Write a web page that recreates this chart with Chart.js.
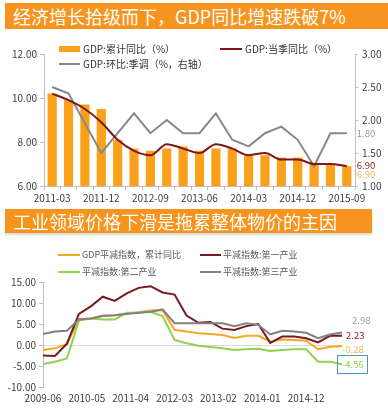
<!DOCTYPE html>
<html><head><meta charset="utf-8">
<script src="https://cdn.jsdelivr.net/npm/chart.js@4.4.0/dist/chart.umd.min.js"></script>
<style>
html,body{margin:0;padding:0;background:#fff;width:388px;height:410px;overflow:hidden;font-family:"Noto Sans CJK SC","Noto Sans",sans-serif;}
.banner{position:absolute;background:#F7941D;color:#fff;font-size:18px;padding-left:8px;box-sizing:border-box;white-space:nowrap;z-index:2;}
#b1{left:5px;top:3px;width:383px;height:26px;line-height:26px;}
#b2{left:5px;top:209px;width:367px;height:24px;line-height:24px;box-shadow:0 2px 2px rgba(0,0,0,0.15);}
.leg{position:absolute;white-space:nowrap;z-index:2;}
.t1{font-size:10px;line-height:12px;color:#333;}
.t2{font-size:9px;line-height:11px;color:#595959;}
.sw{position:absolute;z-index:2;}
canvas{position:absolute;left:0;}
#c1{top:35px;}
#c2{top:240px;}
</style></head>
<body>
<canvas id="c1" width="388" height="175"></canvas>
<canvas id="c2" width="388" height="170"></canvas>

<div class="banner" id="b1">经济增长拾级而下，GDP同比增速跌破7%</div>
<div class="sw" style="left:59px;top:46px;width:21px;height:6px;background:#F9A11B"></div>
<div class="leg t1" style="left:83px;top:43px">GDP:累计同比（%）</div>
<div class="sw" style="left:220px;top:48px;width:22px;height:2px;background:#821518"></div>
<div class="leg t1" style="left:245px;top:43px">GDP:当季同比（%）</div>
<div class="sw" style="left:59px;top:63px;width:21px;height:2px;background:#888888"></div>
<div class="leg t1" style="left:83px;top:58px">GDP:环比:季调（%，右轴）</div>

<div class="banner" id="b2">工业领域价格下滑是拖累整体物价的主因</div>
<div class="sw" style="left:58px;top:254px;width:22px;height:2px;background:#F7A823"></div>
<div class="leg t2" style="left:82px;top:249px">GDP平减指数，累计同比</div>
<div class="sw" style="left:200px;top:254px;width:21px;height:2px;background:#7B1A1E"></div>
<div class="leg t2" style="left:223px;top:249px">平减指数:第一产业</div>
<div class="sw" style="left:58px;top:271px;width:22px;height:2px;background:#92D050"></div>
<div class="leg t2" style="left:82px;top:266px">平减指数:第二产业</div>
<div class="sw" style="left:200px;top:271px;width:21px;height:2px;background:#857f87"></div>
<div class="leg t2" style="left:223px;top:266px">平减指数:第三产业</div>

<script>
// ---------- DATA: chart 1 ----------
const quarters = ['2011-03','2011-06','2011-09','2011-12','2012-03','2012-06','2012-09','2012-12','2013-03','2013-06','2013-09','2013-12','2014-03','2014-06','2014-09','2014-12','2015-03','2015-06','2015-09'];
const gdpCumulative = [10.2, 9.9, 9.7, 9.5, 8.1, 7.7, 7.6, 7.7, 7.8, 7.6, 7.7, 7.7, 7.4, 7.4, 7.3, 7.3, 7.0, 7.0, 6.9];
const gdpQuarterly  = [10.2, 9.9, 9.5, 8.9, 8.1, 7.6, 7.4, 7.9, 7.7, 7.5, 7.9, 7.7, 7.4, 7.5, 7.2, 7.2, 7.0, 7.0, 6.9];
const gdpQoQ        = [2.5, 2.4, 1.95, 1.5, 1.8, 2.1, 1.8, 2.0, 1.8, 1.8, 2.1, 1.7, 1.6, 1.8, 1.9, 1.7, 1.3, 1.8, 1.8];
const leftTicks = [6, 8, 10, 12];
const rightTicks = [1, 1.5, 2, 2.5, 3];

// ---------- DATA: chart 2 ----------
const deflatorDates = ['2009-06','2009-09','2009-12','2010-03','2010-06','2010-09','2010-12','2011-03','2011-06','2011-09','2011-12','2012-03','2012-06','2012-09','2012-12','2013-03','2013-06','2013-09','2013-12','2014-03','2014-06','2014-09','2014-12','2015-03','2015-06','2015-09'];
const deflatorTotal     = [-1.2, -0.8, 0.2, 6.2, 6.3, 7.0, 7.1, 7.5, 7.8, 8.2, 8.3, 3.6, 3.2, 2.8, 2.6, 2.4, 1.7, 2.2, 2.2, 0.8, 1.3, 1.2, 1.0, -1.0, -0.4, -0.28];
const deflatorPrimary   = [-2.5, -2.6, 0.3, 7.4, 9.2, 11.5, 10.5, 12.3, 13.6, 14.0, 12.5, 12.0, 7.0, 5.3, 5.5, 3.9, 3.6, 4.5, 5.0, 0.5, 2.0, 2.0, 1.6, 0.6, 2.2, 2.23];
const deflatorSecondary = [-4.5, -4.0, -3.2, 5.8, 6.3, 6.1, 6.1, 7.7, 7.7, 7.9, 6.9, 1.2, 0.4, -0.2, -0.5, -0.8, -1.2, -1.0, -0.9, -1.4, -1.2, -1.0, -1.0, -4.0, -4.0, -4.56];
const deflatorTertiary  = [2.6, 3.2, 3.4, 6.1, 6.3, 6.9, 7.1, 7.4, 7.7, 7.9, 8.5, 5.2, 5.2, 5.2, 5.2, 5.2, 4.5, 5.2, 4.8, 2.5, 3.4, 3.2, 2.9, 1.6, 2.5, 2.98];
const xLabelStartMonth = '2009-06';
const xLabelEndMonth = '2015-09';
const xLabelStepMonths = 11;

// ---------- helpers ----------
const FONT = '"Noto Sans CJK SC","Noto Sans",sans-serif';
Chart.defaults.font.family = FONT;
Chart.defaults.font.size = 10;
Chart.defaults.color = '#404040';
const AXIS = '#bfbfbf';

function monthIdx(s){ const [y,m]=s.split('-').map(Number); const [y0,m0]=xLabelStartMonth.split('-').map(Number); return (y-y0)*12+(m-m0); }
function monthLabel(v){ const [y0,m0]=xLabelStartMonth.split('-').map(Number); const t=(m0-1)+v; const y=y0+Math.floor(t/12); const m=(t%12)+1; return y+'-'+String(m).padStart(2,'0'); }
const toXY = arr => arr.map((v,i)=>({x:monthIdx(deflatorDates[i]), y:v}));

const endLabels = {
  id:'endLabels',
  afterDatasetsDraw(chart, args, opts){
    const ctx = chart.ctx;
    (opts.items||[]).forEach(it=>{
      const meta = chart.getDatasetMeta(it.ds);
      const data = chart.data.datasets[it.ds].data;
      const el = meta.data[meta.data.length-1];
      const raw = data[data.length-1];
      const v = (typeof raw==='object') ? raw.y : raw;
      const txt = v.toFixed(2);
      ctx.save();
      ctx.font = opts.font;
      ctx.fillStyle = it.color;
      ctx.textAlign='left'; ctx.textBaseline='middle';
      const x = el.x + it.dx, y = el.y + it.dy;
      ctx.fillText(txt, x, y);
      if (it.box){
        const w = ctx.measureText(txt).width;
        ctx.strokeStyle = it.box; ctx.lineWidth = 1;
        ctx.strokeRect(Math.round(x-5)+0.5, Math.round(y-9)+0.5, Math.round(w+8), 18);
      }
      ctx.restore();
    });
  }
};

// ---------- chart 1 ----------
new Chart(document.getElementById('c1'), {
  data:{
    labels: quarters,
    datasets:[
      {type:'bar', label:'GDP:累计同比（%）', data:gdpCumulative, yAxisID:'y', backgroundColor:'#F9A11B', barPercentage:0.56, categoryPercentage:1, order:2},
      {type:'line', label:'GDP:环比:季调（%，右轴）', data:gdpQoQ, yAxisID:'y1', borderColor:'#888888', borderWidth:2, pointRadius:0, tension:0, order:1},
      {type:'line', label:'GDP:当季同比（%）', data:gdpQuarterly, yAxisID:'y', borderColor:'#821518', borderWidth:2, pointRadius:0, cubicInterpolationMode:'monotone', order:0}
    ]
  },
  options:{
    responsive:false, animation:false, events:[],
    layout:{padding:{top:19,left:0,right:0,bottom:0}},
    plugins:{legend:{display:false}, tooltip:{enabled:false},
      endLabels:{font:'9.5px '+FONT, items:[
        {ds:1, color:'#999999', dx:10, dy:0},
        {ds:2, color:'#8B2323', dx:10, dy:-1},
        {ds:0, color:'#F5B450', dx:10, dy:8}
      ]}
    },
    scales:{
      x:{type:'category', offset:true,
        grid:{display:true, offset:true, drawOnChartArea:false, drawTicks:true, tickLength:4, color:AXIS},
        border:{display:true, color:AXIS},
        ticks:{autoSkip:false, maxRotation:0, padding:2, callback:(v,i)=> i%3===0 ? quarters[i] : ''},
        afterFit:s=>{s.height=24;}
      },
      y:{position:'left', min:leftTicks[0], max:leftTicks[leftTicks.length-1],
        afterBuildTicks:s=>{s.ticks=leftTicks.map(v=>({value:v}));},
        grid:{drawOnChartArea:false, drawTicks:true, tickLength:4, color:AXIS},
        border:{display:true, color:AXIS},
        ticks:{padding:3, callback:v=>Number(v).toFixed(2)},
        afterFit:s=>{s.width=44;}
      },
      y1:{position:'right', min:rightTicks[0], max:rightTicks[rightTicks.length-1],
        afterBuildTicks:s=>{s.ticks=rightTicks.map(v=>({value:v}));},
        grid:{drawOnChartArea:false, drawTicks:true, tickLength:3, color:AXIS},
        border:{display:true, color:AXIS},
        ticks:{padding:4, callback:v=>Number(v).toFixed(2)},
        afterFit:s=>{s.width=33;}
      }
    }
  },
  plugins:[endLabels]
});

// ---------- chart 2 ----------
new Chart(document.getElementById('c2'), {
  type:'line',
  data:{
    datasets:[
      {label:'GDP平减指数，累计同比', data:toXY(deflatorTotal), borderColor:'#F7A823', borderWidth:2, pointRadius:0, tension:0, order:3},
      {label:'平减指数:第一产业', data:toXY(deflatorPrimary), borderColor:'#7B1A1E', borderWidth:2, pointRadius:0, tension:0, order:1},
      {label:'平减指数:第二产业', data:toXY(deflatorSecondary), borderColor:'#92D050', borderWidth:2, pointRadius:0, tension:0, order:2},
      {label:'平减指数:第三产业', data:toXY(deflatorTertiary), borderColor:'#857f87', borderWidth:2, pointRadius:0, tension:0, order:0}
    ]
  },
  options:{
    responsive:false, animation:false, events:[],
    layout:{padding:{top:42,left:0,right:46,bottom:0}},
    plugins:{legend:{display:false}, tooltip:{enabled:false},
      endLabels:{font:'9.5px '+FONT, items:[
        {ds:3, color:'#999999', dx:10, dy:-12},
        {ds:1, color:'#8B2323', dx:4, dy:0},
        {ds:0, color:'#F5B450', dx:0, dy:3},
        {ds:2, color:'#92D050', dx:0, dy:0, box:'#4F93C5'}
      ]}
    },
    scales:{
      x:{type:'linear', min:0, max:monthIdx(xLabelEndMonth),
        grid:{display:false, drawTicks:false},
        border:{display:false},
        ticks:{stepSize:xLabelStepMonths, includeBounds:false, maxRotation:0, autoSkip:false, padding:5, callback:v=>monthLabel(v)},
        afterFit:s=>{s.height=23;}
      },
      y:{min:-10, max:15,
        ticks:{stepSize:5, padding:3, callback:v=>Number(v).toFixed(2)},
        grid:{drawOnChartArea:true, drawTicks:true, tickLength:4,
          color:c=> (c.tick && c.tick.value===0) ? '#d9d9e3' : 'rgba(0,0,0,0)', tickColor:AXIS},
        border:{display:true, color:AXIS},
        afterFit:s=>{s.width=43;}
      }
    }
  },
  plugins:[endLabels]
});
</script>
</body></html>
